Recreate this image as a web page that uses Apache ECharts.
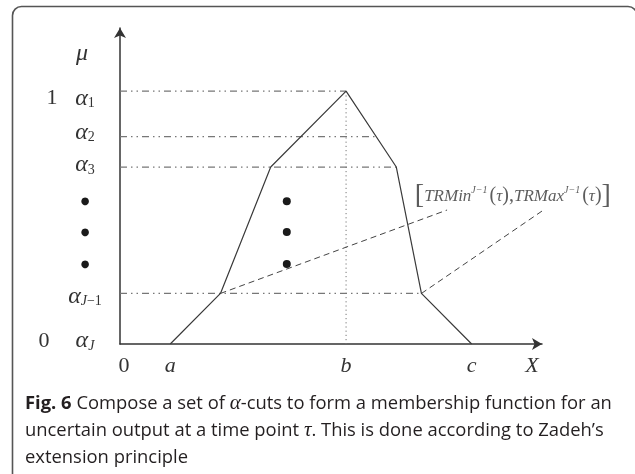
<!DOCTYPE html>
<html>
<head>
<meta charset="utf-8">
<script src="https://cdn.jsdelivr.net/npm/echarts@6/dist/echarts.min.js"></script>
<style>
  html, body { margin: 0; padding: 0; background: #fff; }
  #chart { width: 635px; height: 474px; }
</style>
</head>
<body>
<div id="chart"></div>
<script>
// membership function vertices (x, mu)
const shapeX = [1, 2, 3, 4.5, 5.5, 6, 7]
const shapeY = [0, 0.2, 0.7, 1, 0.7, 0.2, 0]
// alpha-cut levels and the x where each cut meets the right side
const cutLevels = [1, 0.82, 0.7, 0.2]
const cutRight = [4.5, 5.1, 5.5, 6]
// peak b
const peakX = 4.5
// the three dots between alpha3 and alpha J-1
const dotLevels = [0.565, 0.443, 0.316]
const dotX = 3.32
// dashed leaders to the interval label
const leaderFrom = [[2, 0.2], [6, 0.2]]
const leaderTo = [[6.51, 0.53], [8.46, 0.534]]
const bracketAt = [7.82, 0.585]
// tick labels
const yTickValues = [1.15, 1, 0.82, 0.7, 0.565, 0.443, 0.316, 0.2, 0]
const yTickLabels = ['μ', 'α1', 'α2', 'α3', '•', '•', '•', 'αJ−1', 'αJ']
const yNumValues = [1, 0]
const yNumLabels = ['1', '0']
const xTickValues = [0, 1, 4.5, 7, 8.2]
const xTickLabels = ['0', 'a', 'b', 'c', 'X']
const captionLines = [
  '{b|Fig. 6} Compose a set of {g|α}-cuts to form a membership function for an',
  'uncertain output at a time point {g|τ}. This is done according to Zadeh’s',
  'extension principle'
]

const chart = echarts.init(document.getElementById('chart'))
const serif = 'Liberation Serif'
const ink = '#333'
const cutDash = [7, 4, 1.5, 4, 1.5, 4]
// small vertical nudges (px, + is down) of some alpha labels, as typeset in the figure
const labelNudge = { 'α1': 7, 'α2': -4, 'α3': -2, 'αJ−1': 3, 'αJ': -3 }

function pickLabel (values, labels, v) {
  for (let i = 0; i < values.length; i++) {
    if (Math.abs(values[i] - v) < 1e-6) return labels[i]
  }
  return ''
}

// rich styles for every alpha label, so each one can carry its own nudge
const yRich = {
  mu: { fontFamily: serif, fontStyle: 'italic', fontSize: 24, color: ink, lineHeight: 22, padding: [0, 6, 0, 0] },
  d: { fontFamily: 'DejaVu Sans', fontSize: 10, color: '#1a1a1a' }
}
yTickLabels.forEach((t, k) => {
  const n = labelNudge[t] || 0
  const top = n > 0 ? 2 * n : 0
  const bottom = n < 0 ? -2 * n : 0
  yRich['a' + k] = { fontFamily: serif, fontStyle: 'italic', fontSize: 24, color: ink, lineHeight: 22, padding: [top, 0, bottom, 0] }
  yRich['s' + k] = { fontFamily: serif, fontSize: 14, color: ink, lineHeight: 14, padding: [10 + top, 0, bottom, 0] }
  yRich['si' + k] = { fontFamily: serif, fontStyle: 'italic', fontSize: 14, color: ink, lineHeight: 14, padding: [10 + top, 0, bottom, 0] }
})

// subscript: letters italic, digits and minus upright
function subMarkup (s, k) {
  let out = ''
  for (const ch of s) {
    out += /[A-Za-z]/.test(ch) ? '{si' + k + '|' + ch + '}' : '{s' + k + '|' + ch + '}'
  }
  return out
}

const series = []
// the membership function
series.push({
  type: 'line',
  symbol: 'none',
  silent: true,
  data: shapeX.map((x, i) => [x, shapeY[i]]),
  lineStyle: { color: '#3a3a3a', width: 1.2 },
  z: 5
})
// alpha cuts
cutLevels.forEach((lv, i) => {
  series.push({
    type: 'line',
    symbol: 'none',
    silent: true,
    data: [[0, lv], [cutRight[i], lv]],
    lineStyle: { color: '#777', width: 1.2, type: cutDash }
  })
})
// dotted b line
series.push({
  type: 'line',
  symbol: 'none',
  silent: true,
  data: [[peakX, 1], [peakX, 0]],
  lineStyle: { color: '#777', width: 1, type: [1.2, 3] }
})
// dashed leaders
leaderFrom.forEach((p, i) => {
  series.push({
    type: 'line',
    symbol: 'none',
    silent: true,
    clip: false,
    data: [p, leaderTo[i]],
    lineStyle: { color: '#444', width: 1, type: [6, 4] }
  })
})
// middle dots
series.push({
  type: 'scatter',
  symbol: 'circle',
  symbolSize: 8,
  silent: true,
  itemStyle: { color: '#1a1a1a', opacity: 1 },
  data: dotLevels.map(v => [dotX, v])
})
// interval label
series.push({
  type: 'scatter',
  symbolSize: 0,
  silent: true,
  clip: false,
  data: [bracketAt],
  label: {
    show: true,
    position: 'inside',
    formatter: '{br|[}{i|TRMin}{sup|J−1}{n|(}{i|τ}{n|),}{i|TRMax}{sup|J−1}{n|(}{i|τ}{n|)}{br|]}',
    rich: {
      br: { fontFamily: serif, fontSize: 28, color: ink, lineHeight: 30 },
      i: { fontFamily: serif, fontStyle: 'italic', fontSize: 17, color: ink, lineHeight: 20 },
      n: { fontFamily: serif, fontSize: 20, color: ink, lineHeight: 20 },
      sup: { fontFamily: serif, fontStyle: 'italic', fontSize: 10, color: ink, lineHeight: 10, padding: [0, 2, 12, 0] }
    }
  }
})

const option = {
  animation: false,
  backgroundColor: '#fff',
  title: {
    left: 20,
    top: 385,
    text: captionLines.join('\n'),
    textStyle: {
      fontFamily: 'Open Sans',
      fontSize: 18.4,
      fontWeight: 'normal',
      lineHeight: 27,
      color: '#231f20',
      rich: {
        b: { fontFamily: 'Open Sans', fontWeight: 'bold', fontSize: 18.4, lineHeight: 27, color: '#231f20' },
        g: { fontFamily: serif, fontStyle: 'italic', fontSize: 21, lineHeight: 27, color: '#231f20' }
      }
    }
  },
  graphic: [{
    type: 'rect',
    silent: true,
    shape: { x: 12.5, y: 6.5, width: 624.5, height: 540, r: 9 },
    style: { fill: 'none', stroke: '#555', lineWidth: 1.6 }
  }],
  grid: { left: 120, right: 93, top: 28, bottom: 130, containLabel: false },
  xAxis: {
    type: 'value',
    min: 0,
    max: 8.4,
    splitLine: { show: false },
    axisTick: { show: false },
    axisLine: {
      onZero: false,
      symbol: ['none', 'arrow'],
      symbolSize: [9, 10],
      lineStyle: { color: ink, width: 1.5 }
    },
    axisLabel: {
      customValues: xTickValues,
      margin: 11,
      formatter: v => {
        const t = pickLabel(xTickValues, xTickLabels, v)
        return t === '0' ? '{n|0}' : '{i|' + t + '}'
      },
      rich: {
        n: { fontFamily: serif, fontSize: 22, color: ink, padding: [0, 0, 0, 8] },
        i: { fontFamily: serif, fontStyle: 'italic', fontSize: 22, color: ink }
      }
    }
  },
  yAxis: [{
    type: 'value',
    min: 0,
    max: 1.25,
    splitLine: { show: false },
    axisTick: { show: false },
    axisLine: {
      onZero: false,
      symbol: ['none', 'arrow'],
      symbolSize: [9, 10],
      lineStyle: { color: ink, width: 1.5 }
    },
    axisLabel: {
      customValues: yTickValues,
      align: 'center',
      margin: 35,
      formatter: v => {
        const t = pickLabel(yTickValues, yTickLabels, v)
        const k = yTickLabels.indexOf(t)
        if (t === '•') return '{d|●}'
        if (t === 'μ') return '{mu|μ}'
        return '{a' + k + '|α}' + subMarkup(t.slice(1), k)
      },
      rich: yRich
    }
  }, {
    type: 'value',
    position: 'left',
    min: 0,
    max: 1.25,
    splitLine: { show: false },
    axisTick: { show: false },
    axisLine: { show: false },
    axisLabel: {
      customValues: yNumValues,
      align: 'center',
      margin: 73,
      formatter: v => {
        const t = pickLabel(yNumValues, yNumLabels, v)
        return t === '1' ? '{one|1}' : '{zero|0}'
      },
      rich: {
        one: { fontFamily: serif, fontSize: 22, color: ink, padding: [14, 0, 0, 10] },
        zero: { fontFamily: serif, fontSize: 22, color: ink, padding: [0, 6, 6, 0] }
      }
    }
  }],
  series: series
}

chart.setOption(option)
</script>
</body>
</html>
